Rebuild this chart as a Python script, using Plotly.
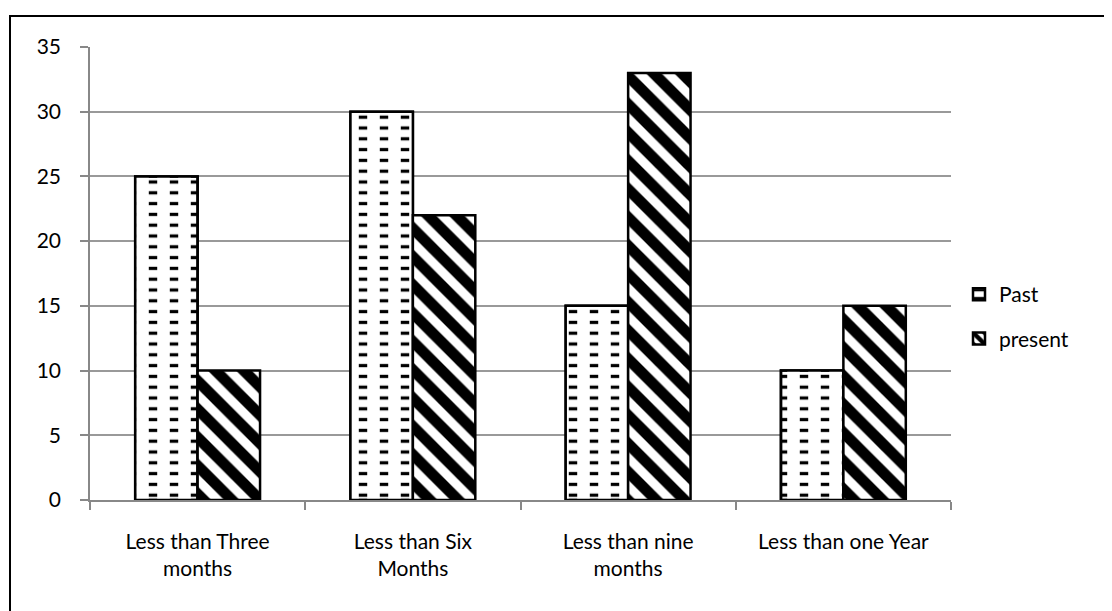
import plotly.graph_objects as go

categories = ["Less than Three<br>months", "Less than Six<br>Months", "Less than nine<br>months", "Less than one Year"]
past = [25, 30, 15, 10]
present = [10, 22, 33, 15]
y_ticks = [0, 5, 10, 15, 20, 25, 30, 35]

# page has an 8px body margin; coordinates below are figure pixels
OFF = 8
W, H = 1112 - OFF, 611 - OFF
L, R, T, B = 90 - OFF, 951 - OFF, 47 - OFF, 500 - OFF

FONT = "Lato, sans-serif"
FS = 21

fig = go.Figure()
fig.add_trace(go.Bar(
    x=categories, y=past, name="Past", offsetgroup="past", legendgroup="past",
    marker=dict(color="white", line=dict(color="black", width=2.5),
                pattern=dict(shape="-", fgcolor="black", fgopacity=1, bgcolor="white",
                             size=10.8, solidity=0.3)),
))
# white vertical stripes over the horizontal lines turn them into dashes
fig.add_trace(go.Bar(
    x=categories, y=past, name="Past", offsetgroup="past", showlegend=False, hoverinfo="skip",
    marker=dict(color="rgba(0,0,0,0)", line=dict(color="black", width=2.5),
                pattern=dict(shape="|", fgcolor="white", fgopacity=1, bgcolor="rgba(0,0,0,0)",
                             size=21, solidity=0.6)),
))
fig.add_trace(go.Bar(
    x=categories, y=present, name="present", offsetgroup="present", legendgroup="present",
    marker=dict(color="white", line=dict(color="black", width=2.5),
                pattern=dict(shape="\\", fgcolor="black", fgopacity=1, bgcolor="white",
                             size=20, solidity=0.55)),
))

def px2paper_x(px):
    return (px - OFF - L) / (R - L)

def px2paper_y(py):
    return (B - (py - OFF)) / (B - T)

fig.add_shape(type="rect", xref="paper", yref="paper",
              x0=px2paper_x(10), x1=px2paper_x(1110), y0=px2paper_y(630), y1=px2paper_y(16),
              line=dict(color="black", width=2), fillcolor="rgba(0,0,0,0)", layer="below")

fig.update_layout(
    width=W, height=H,
    margin=dict(l=L, r=W - R, t=T, b=H - B, autoexpand=False),
    plot_bgcolor="white", paper_bgcolor="white",
    barmode="group", bargap=0.42, bargroupgap=0,
    font=dict(family=FONT, size=FS, color="black"),
    showlegend=True,
    legend=dict(x=px2paper_x(959), y=px2paper_y(274), xanchor="left", yanchor="top",
                font=dict(size=FS), tracegroupgap=14, itemwidth=30, bgcolor="rgba(0,0,0,0)"),
    xaxis=dict(type="category", showline=True, linecolor="#888", linewidth=1.5,
               ticks="outside", tickson="boundaries", ticklen=8, tickcolor="#888", tickwidth=1.5,
               showgrid=False, tickfont=dict(size=FS), ticklabelstandoff=22),
    yaxis=dict(range=[0, 35], tickvals=y_ticks, showline=True, linecolor="#888", linewidth=1.5,
               ticks="outside", ticklen=8, tickcolor="#888", tickwidth=1.5,
               showgrid=True, gridcolor="#999", gridwidth=1.5, zeroline=False,
               tickfont=dict(size=FS), ticklabelstandoff=15),
)

fig.write_html("out.html")
